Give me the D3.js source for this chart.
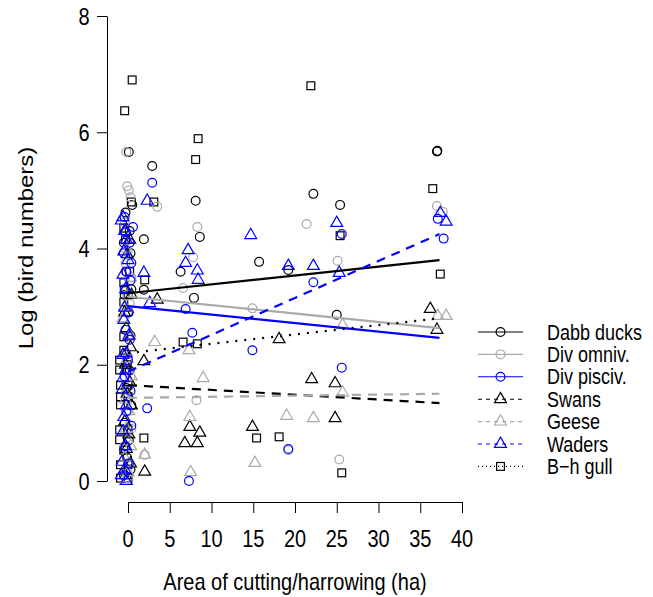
<!DOCTYPE html>
<html><head><meta charset="utf-8">
<script src="https://cdn.jsdelivr.net/npm/d3@7"></script>
<style>body{margin:0;background:#fff}svg{display:block;font-family:"Liberation Sans",Arial,Helvetica,sans-serif}</style>
</head><body>
<script>
// ---- data (x = area in ha, y = log bird numbers) ----
const dabbDucks = [
 [0.1,5.66],[0.5,4.75],[-0.3,4.62],[0.2,4.3],[-0.5,4.1],[0.3,3.92],[-0.2,3.6],[0.4,3.3],[-0.4,3.2],[0.0,2.9],[0.3,2.5],[-0.3,2.2],[0.2,1.9],[-0.2,1.6],[0.4,1.3],[-0.4,1.0],[0.1,0.7],[-0.1,0.4],[0.3,0.2],
 [2.9,5.42],[8.1,4.82],[8.6,4.2],[1.9,4.16],[1.9,3.29],[6.3,3.6],[7.9,3.15],[15.7,3.77],[19.2,3.63],[22.2,4.94],[25.4,4.75],[25.0,2.86],[37.0,5.67],[37.05,5.68]
];
const divOmniv = [
 [-0.2,5.66],[-0.1,5.07],[0.1,5.0],[0.3,4.88],[-0.4,4.45],[0.2,4.1],[-0.3,3.75],[0.4,3.5],[-0.1,3.2],[0.2,3.05],[-0.5,2.8],[0.1,2.5],[-0.2,2.2],[0.3,1.8],[-0.3,1.5],[0.0,1.2],[0.4,0.9],[-0.4,0.6],[0.1,0.3],[-0.1,0.05],
 [3.5,4.72],[8.3,4.37],[7.8,3.85],[6.6,3.32],[14.9,2.97],[8.2,1.39],[21.4,4.42],[25.1,3.79],[25.3,0.37],[19.2,0.53],[37.0,4.73],[37.7,4.63],[2.0,0.45]
];
const divPisciv = [
 [-0.4,4.54],[0.6,4.37],[-0.3,4.28],[0.2,4.1],[-0.5,3.92],[0.4,3.75],[-0.2,3.6],[0.3,3.45],[-0.4,3.3],[0.1,2.9],[-0.3,2.6],[0.2,2.43],[0.0,2.08],[-0.4,1.8],[0.3,1.55],[-0.2,1.2],[0.4,0.95],[-0.3,0.6],[0.1,0.3],[-0.5,0.1],
 [2.9,5.13],[7.7,2.55],[6.9,2.96],[2.3,1.25],[7.3,0.0],[14.9,2.25],[25.6,4.25],[22.2,3.42],[25.6,1.95],[19.2,0.55],[37.1,4.51],[37.8,4.17]
];
const swans = [
 [-0.3,4.3],[0.2,4.15],[-0.1,3.9],[0.4,3.2],[-0.4,2.9],[-0.2,2.63],[0.3,2.3],[-0.3,2.0],[0.2,1.7],[-0.1,1.5],[0.4,1.3],[-0.4,1.02],[0.1,0.8],[-0.2,0.55],[0.3,0.3],[-0.3,0.1],
 [3.5,3.12],[1.9,2.06],[7.4,0.93],[8.6,0.83],[6.8,0.65],[8.3,0.65],[14.9,0.93],[2.0,0.16],[18.1,2.44],[22.0,1.75],[24.8,1.68],[24.8,1.08],[36.2,2.96],[37.0,2.6]
];
const geese = [
 [-0.2,4.0],[0.3,3.5],[-0.4,3.0],[-0.6,2.8],[0.2,2.5],[-0.1,2.1],[0.4,1.8],[-0.3,1.4],[0.1,1.2],[-0.2,0.9],[0.3,0.6],[-0.4,0.4],[0.0,0.15],[-0.3,0.0],
 [3.2,2.39],[7.3,2.25],[9.0,1.77],[7.4,1.1],[2.0,0.45],[7.5,0.15],[15.2,0.31],[25.7,1.52],[19.0,1.12],[22.2,1.08],[25.7,2.68],[37.1,2.84],[38.1,2.84]
];
const waders = [
 [-0.6,4.54],[-0.8,4.48],[-0.4,4.3],[-0.2,4.15],[-0.5,3.95],[0.0,3.8],[-0.6,3.55],[-0.3,3.3],[-0.4,2.98],[-0.5,2.77],[0.1,2.5],[-0.2,2.2],[-0.6,2.17],[-0.3,1.9],[-0.6,1.77],[-0.7,1.57],[-0.2,1.3],[-0.5,1.1],[-0.6,0.85],[-0.3,0.6],[-0.7,0.33],[-0.4,0.2],[-0.8,0.1],[-0.2,0.0],
 [2.3,4.82],[7.2,3.97],[6.9,3.75],[8.3,3.62],[8.4,3.46],[14.7,4.23],[1.9,3.58],[2.6,3.06],[25.0,4.44],[19.2,3.7],[22.2,3.7],[25.3,3.58],[37.4,4.61],[38.1,4.46]
];
const bhGull = [
 [0.5,6.9],[-0.4,6.37],[0.4,4.8],[-0.5,4.35],[-0.3,4.15],[0.2,3.6],[-0.5,3.41],[-0.4,3.29],[0.0,3.2],[-0.5,3.08],[-0.5,2.48],[-0.5,2.25],[-1.0,2.08],[-0.1,2.0],[-1.0,1.91],[-0.2,1.91],[-0.9,1.65],[0.0,1.65],[-0.9,1.45],[0.0,1.45],[-0.9,1.31],[-1.0,0.88],[0.0,0.88],[-1.0,0.71],[-0.5,0.53],[-0.9,0.28],[0.0,0.28],[-0.9,0.05],[0.0,0.05],
 [8.4,5.89],[8.1,5.53],[21.9,6.8],[3.1,4.8],[2.0,3.46],[6.6,2.39],[8.3,2.36],[1.9,0.74],[25.4,4.22],[15.4,0.74],[18.1,0.76],[25.6,0.14],[36.5,5.03],[37.4,3.56]
];
// fitted lines: intercept and slope, over x range
const seriesNames = ["Dabb ducks","Div omniv.","Div pisciv.","Swans","Geese","Waders","B\u2212h gull"];
const intercepts = [3.23, 3.17, 3.01, 1.65, 1.43, 1.88, 2.20];
const slopes     = [0.0153, -0.0145, -0.0147, -0.0083, 0.0019, 0.0635, 0.0161];
const fitRange = [0, 37.3];
const xTicks = [0,5,10,15,20,25,30,35,40];
const yTicks = [0,2,4,6,8];
const xTitle = "Area of cutting/harrowing (ha)";
const yTitle = "Log (bird numbers)";

// ---- style ----
const colors = ["#000000","#aaaaaa","#0000ff","#000000","#aaaaaa","#0000ff","#000000"];
const shapes = ["circle","circle","circle","triangle","triangle","triangle","square"];
const fitDash = [null,null,null,"9,7","9,7","9,7","2,7"];
const legDash = [null,null,null,"4,4","4,4","4,4","1,3"];
const seriesData = [dabbDucks, divOmniv, divPisciv, swans, geese, waders, bhGull];

const W=653,H=597;
const svg=d3.select("body").append("svg").attr("width",W).attr("height",H);
const x=d3.scaleLinear().domain([0,40]).range([128,462]);
const y=d3.scaleLinear().domain([0,8]).range([481,16]);
const xAxisY=502, yAxisX=107;
const FS=20, LFS=18, SY=1.2;

function stext(g,tx,ty,str,fs,anchor,rot){
  return g.append("text").attr("transform",`translate(${tx},${ty})`+(rot?` rotate(${rot}) scale(${SY},1)`:` scale(1,${SY})`))
    .attr("text-anchor",anchor).attr("font-size",fs).attr("fill","#000").text(str);
}

const R=4.4;
function symbol(g,shape,cx,cy,col){
  if(shape==="circle") g.append("circle").attr("cx",cx).attr("cy",cy).attr("r",R).attr("fill","none").attr("stroke",col).attr("stroke-width",1.2);
  else if(shape==="triangle"){
    const r=R*1.5551, xc=r*0.866, yc=r*0.5;
    g.append("path").attr("d",`M${cx},${cy-r}L${cx+xc},${cy+yc}L${cx-xc},${cy+yc}Z`).attr("fill","none").attr("stroke",col).attr("stroke-width",1.2);
  } else {
    const s=R*0.886;
    g.append("rect").attr("x",cx-s).attr("y",cy-s).attr("width",2*s).attr("height",2*s).attr("fill","none").attr("stroke",col).attr("stroke-width",1.2);
  }
}

// points
const pts=svg.append("g");
const order=[6,0,1,3,4,2,5];
order.forEach(i=>{
  seriesData[i].forEach(d=>symbol(pts,shapes[i],x(d[0]),y(d[1]),colors[i]));
});
// fitted lines
const lineG=svg.append("g");
const ln=d3.line().x(d=>x(d[0])).y(d=>y(d[1]));
seriesData.forEach((s,i)=>{
  const dd=fitRange.map(v=>[v,intercepts[i]+slopes[i]*v]);
  lineG.append("path").attr("d",ln(dd)).attr("fill","none").attr("stroke",colors[i]).attr("stroke-width",2.2)
    .attr("stroke-dasharray",fitDash[i]);
});

// axes (lines and ticks from d3 axis, labels drawn with vertical stretch)
const xa=svg.append("g").attr("transform",`translate(0,${xAxisY})`)
  .call(d3.axisBottom(x).tickValues(xTicks).tickSize(11).tickSizeOuter(0).tickFormat(""));
const ya=svg.append("g").attr("transform",`translate(${yAxisX},0)`)
  .call(d3.axisLeft(y).tickValues(yTicks).tickSize(10).tickSizeOuter(0).tickFormat(""));
[xa,ya].forEach(a=>{a.selectAll("path,line").attr("stroke","#000").attr("stroke-width",1);});
const lab=svg.append("g");
xTicks.forEach(t=>stext(lab,x(t),547,String(t),FS,"middle"));
yTicks.forEach(t=>stext(lab,84,y(t)+8.6,String(t),FS,"middle"));

stext(svg,295,590,xTitle,FS,"middle");
stext(svg,33,248,yTitle,FS,"middle",-90);

// legend
const leg=svg.append("g");
seriesNames.forEach((n,i)=>{
  const ly=332+22.4*i;
  leg.append("line").attr("x1",478).attr("x2",523).attr("y1",ly).attr("y2",ly).attr("stroke",colors[i]).attr("stroke-width",1.1).attr("stroke-dasharray",legDash[i]);
  symbol(leg,shapes[i],500.5,ly,colors[i]);
  stext(leg,547,ly+7.5,n,LFS,"start");
});
</script>
</body></html>
